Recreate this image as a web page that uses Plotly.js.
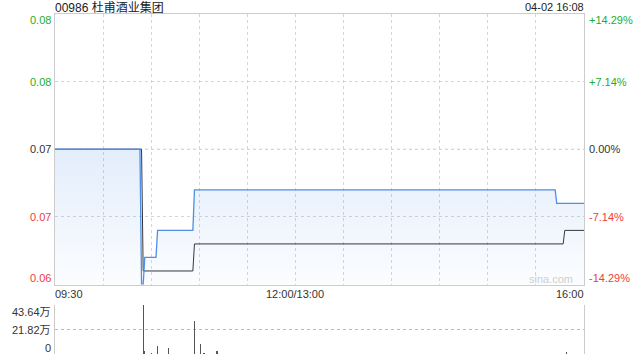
<!DOCTYPE html>
<html>
<head>
<meta charset="utf-8">
<script src="https://cdn.plot.ly/plotly-3.0.1.min.js"></script>
<style>html,body{margin:0;padding:0;background:#fff;}#chart{width:640px;height:360px;}</style>
</head>
<body>
<div id="chart"></div>
<script>
// ---- data ----
const tradeDate = '2025-04-02';
const stockTitle = '00986 杜甫酒业集团';
const stampText = '04-02 16:08';
const prevClose = 0.07;

const priceTimes = ['09:30','10:23','10:24','10:25','10:26','10:33','10:34','10:56','10:57','15:42','15:43','16:00'];
const priceValues = [0.070,0.070,0.060,0.060,0.062,0.062,0.064,0.064,0.067,0.067,0.066,0.066];

const avgTimes = ['09:30','10:24','10:25','10:56','10:57','15:47','15:48','16:00'];
const avgValues = [0.070,0.070,0.061,0.061,0.063,0.063,0.064,0.064];

const volTimes = ['10:25','10:26','10:30','10:34','10:41','10:57','11:01','11:03','11:11','15:49'];
const volValues = [43.64,2.6,0.9,7.0,5.3,29.1,8.8,0.9,2.6,2.0]; // 万

const priceTicks = [0.08,0.075,0.07,0.065,0.06];
const priceTickLabels = ['0.08','0.08','0.07','0.07','0.06'];
const pctTickLabels = ['+14.29%','+7.14%','0.00%','-7.14%','-14.29%'];
const volTicks = [43.64,21.82,0];
const volTickLabels = ['43.64万','21.82万','0'];
const timeTicks = ['09:30','12:00','16:00'];
const timeTickLabels = ['09:30','12:00/13:00','16:00'];

// ---- build ----
const T = s => tradeDate + ' ' + s;
const FONT = 'Arial, "Liberation Sans", "Noto Sans CJK SC", sans-serif';
const GREEN = '#1fae1f', RED = '#f03c3c', DARK = '#333333';
const mainBottom = 0.2044, volTop = 0.1441;

function tickColor(v){ return v > prevClose + 1e-9 ? GREEN : (v < prevClose - 1e-9 ? RED : DARK); }

const traces = [
  {x: avgTimes.map(T), y: avgValues, type:'scatter', mode:'lines',
   line:{color:'#333333', width:1}, xaxis:'x', yaxis:'y', hoverinfo:'skip'},
  {x: priceTimes.map(T), y: priceValues, type:'scatter', mode:'lines',
   line:{color:'#4d8ee8', width:1.3}, fill:'tozeroy',
   fillgradient:{type:'vertical', start:0.06, stop:0.07,
     colorscale:[[0,'rgba(77,142,232,0.02)'],[1,'rgba(77,142,232,0.16)']]},
   xaxis:'x', yaxis:'y', hoverinfo:'skip'},
  {x: volTimes.map(T), y: volValues, type:'bar', width:45000,
   marker:{color:'#555555', line:{width:0}}, xaxis:'x2', yaxis:'y2', hoverinfo:'skip'}
];

const annotations = [];
annotations.push({xref:'paper', yref:'paper', x:0, y:1, xanchor:'left', yanchor:'middle', yshift:7, xshift:-2,
  text:stockTitle, showarrow:false, font:{family:FONT, size:12, color:'#222'}});
annotations.push({xref:'paper', yref:'paper', x:1, y:1, xanchor:'right', yanchor:'middle', yshift:7, xshift:2,
  text:stampText, showarrow:false, font:{family:FONT, size:11, color:'#222'}});
priceTicks.forEach((v,i)=>{
  const shift = i===0 ? -6 : (i===priceTicks.length-1 ? 7 : 0);
  annotations.push({xref:'paper', yref:'y', x:0, y:v, xanchor:'right', yanchor:'middle', xshift:-2, yshift:shift,
    text:priceTickLabels[i], showarrow:false, font:{family:FONT, size:11, color:tickColor(v)}});
  annotations.push({xref:'paper', yref:'y', x:1, y:v, xanchor:'left', yanchor:'middle', xshift:3, yshift:shift,
    text:pctTickLabels[i], showarrow:false, font:{family:FONT, size:11, color:tickColor(v)}});
});
volTicks.forEach((v,i)=>{
  const shift = i===0 ? -7 : (i===volTicks.length-1 ? 6 : 0);
  annotations.push({xref:'paper', yref:'y2', x:0, y:v, xanchor:'right', yanchor:'middle', xshift:-2, yshift:shift,
    text:volTickLabels[i], showarrow:false, font:{family:FONT, size:11, color:DARK}});
});
timeTicks.forEach((t,i)=>{
  const anchor = i===0 ? 'left' : (i===timeTicks.length-1 ? 'right' : 'center');
  annotations.push({xref:'x', yref:'paper', x:T(t), y:mainBottom, xanchor:anchor, yanchor:'top', yshift:-1,
    xshift: i===0 ? -2 : (i===timeTicks.length-1 ? 2 : 0),
    text:timeTickLabels[i], showarrow:false, font:{family:FONT, size:11, color:DARK}});
});
annotations.push({xref:'paper', yref:'y', x:1, y:0.06, xanchor:'right', yanchor:'bottom', xshift:-9, yshift:-2,
  text:'sina.com', showarrow:false, font:{family:FONT, size:11, color:'#cfcfcf'}});

const xBase = {
  type:'date', range:[T('09:30'), T('16:00')],
  rangebreaks:[{pattern:'hour', bounds:[12,13]}],
  tick0:T('09:30'), dtick:1800000, showticklabels:false, ticks:'', zeroline:false
};

const layout = {
  width:640, height:360,
  margin:{l:55, r:56, t:14, b:6},
  paper_bgcolor:'#ffffff', plot_bgcolor:'#ffffff',
  showlegend:false, bargap:0,
  font:{family:FONT, size:11, color:DARK},
  xaxis: Object.assign({}, xBase, {anchor:'y', showgrid:true, gridcolor:'#d6d6d6', griddash:'dot', gridwidth:1,
    showline:true, mirror:true, linecolor:'#cccccc', linewidth:1}),
  yaxis: {domain:[mainBottom,1], range:[0.06,0.08], tickvals:priceTicks, showticklabels:false, ticks:'',
    showgrid:true, gridcolor:'#d6d6d6', griddash:'dot', gridwidth:1, zeroline:false,
    showline:true, mirror:true, linecolor:'#cccccc', linewidth:1},
  xaxis2: Object.assign({}, xBase, {anchor:'y2', showgrid:false, showline:false}),
  yaxis2: {domain:[0,volTop], range:[0,43.64], tickvals:volTicks, showticklabels:false, ticks:'',
    showgrid:true, gridcolor:'#bdbdbd', griddash:'dot', gridwidth:1, zeroline:false,
    showline:true, mirror:true, linecolor:'#cccccc', linewidth:1, anchor:'x2'},
  shapes:[{type:'line', xref:'paper', x0:0, x1:1, yref:'y', y0:prevClose, y1:prevClose,
    line:{color:'#c4c4c4', width:1, dash:'dot'}, layer:'below'}],
  annotations: annotations
};

Plotly.newPlot('chart', traces, layout, {staticPlot:true, displayModeBar:false});
</script>
</body>
</html>
